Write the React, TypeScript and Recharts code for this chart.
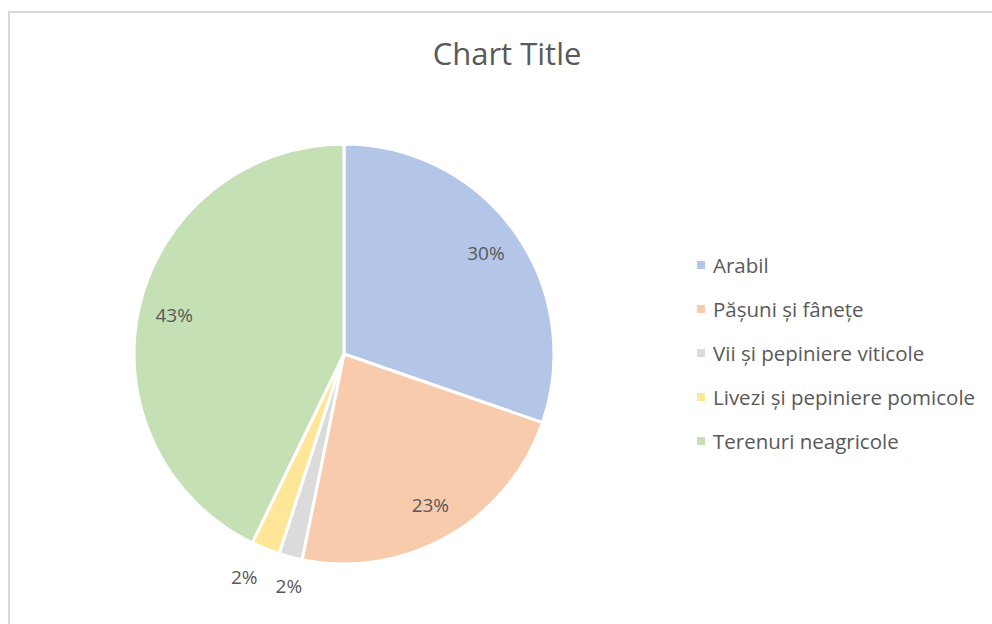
import { PieChart, Pie, Cell, Legend } from "recharts";

const categories = [
  "Arabil",
  "Pășuni și fânețe",
  "Vii și pepiniere viticole",
  "Livezi și pepiniere pomicole",
  "Terenuri neagricole",
];
const shares = [30.3, 22.9, 1.8, 2.2, 42.8];
const colors = ["#B4C6E7", "#F8CBAD", "#DBDBDB", "#FFE699", "#C5E0B4"];

const data = categories.map((name, i) => ({ name, value: shares[i] }));

const FONT = "'Open Sans', 'Liberation Sans', sans-serif";
const TEXT = "#595959";
const RAD = Math.PI / 180;

const renderLabel = (props: any) => {
  const { cx, cy, midAngle, outerRadius, percent } = props;
  const small = percent < 0.05;
  const r = small ? outerRadius + 30 : outerRadius * 0.83;
  let x = cx + r * Math.cos(-midAngle * RAD);
  const y = cy + r * Math.sin(-midAngle * RAD);
  // spread the small outside labels apart, as the original does
  if (small) x += midAngle < -110 ? -10 : 6;
  return (
    <text
      x={x}
      y={y}
      fill={TEXT}
      fontSize={19}
      fontFamily={FONT}
      textAnchor="middle"
      dominantBaseline="central"
    >
      {`${Math.round(percent * 100)}%`}
    </text>
  );
};

const renderLegend = () => (
  <div style={{ fontFamily: FONT, fontSize: 20.5, color: TEXT }}>
    {categories.map((c, i) => (
      <div
        key={c}
        style={{ display: "flex", alignItems: "center", height: 44 }}
      >
        <span
          style={{
            width: 8,
            height: 8,
            background: colors[i],
            marginRight: 8,
            display: "inline-block",
          }}
        />
        <span style={{ whiteSpace: "nowrap" }}>{c}</span>
      </div>
    ))}
  </div>
);

export default function App() {
  return (
    <div style={{ width: 992, height: 624, overflow: "hidden" }}>
      <style>{`body{margin:0;overflow:hidden}`}</style>
      <div
        style={{
          marginTop: 11,
          marginLeft: 8,
          width: 984,
          height: 613,
          borderLeft: "2px solid #D9D9D9",
          borderTop: "2px solid #D9D9D9",
          position: "relative",
          background: "#fff",
        }}
      >
        <div
          style={{
            position: "absolute",
            top: 19,
            left: 0,
            width: 994,
            textAlign: "center",
            fontFamily: FONT,
            fontSize: 31,
            color: TEXT,
          }}
        >
          Chart Title
        </div>
        <PieChart width={984} height={613}>
          <Pie
            data={data}
            dataKey="value"
            nameKey="name"
            cx={329}
            cy={336}
            outerRadius={210}
            startAngle={90}
            endAngle={-270}
            stroke="#fff"
            strokeWidth={3}
            label={renderLabel}
            labelLine={false}
            isAnimationActive={false}
          >
            {data.map((d, i) => (
              <Cell key={d.name} fill={colors[i]} />
            ))}
          </Pie>
          <Legend
            content={renderLegend}
            wrapperStyle={{ left: 687, top: 230, width: 300 }}
          />
        </PieChart>
      </div>
    </div>
  );
}
